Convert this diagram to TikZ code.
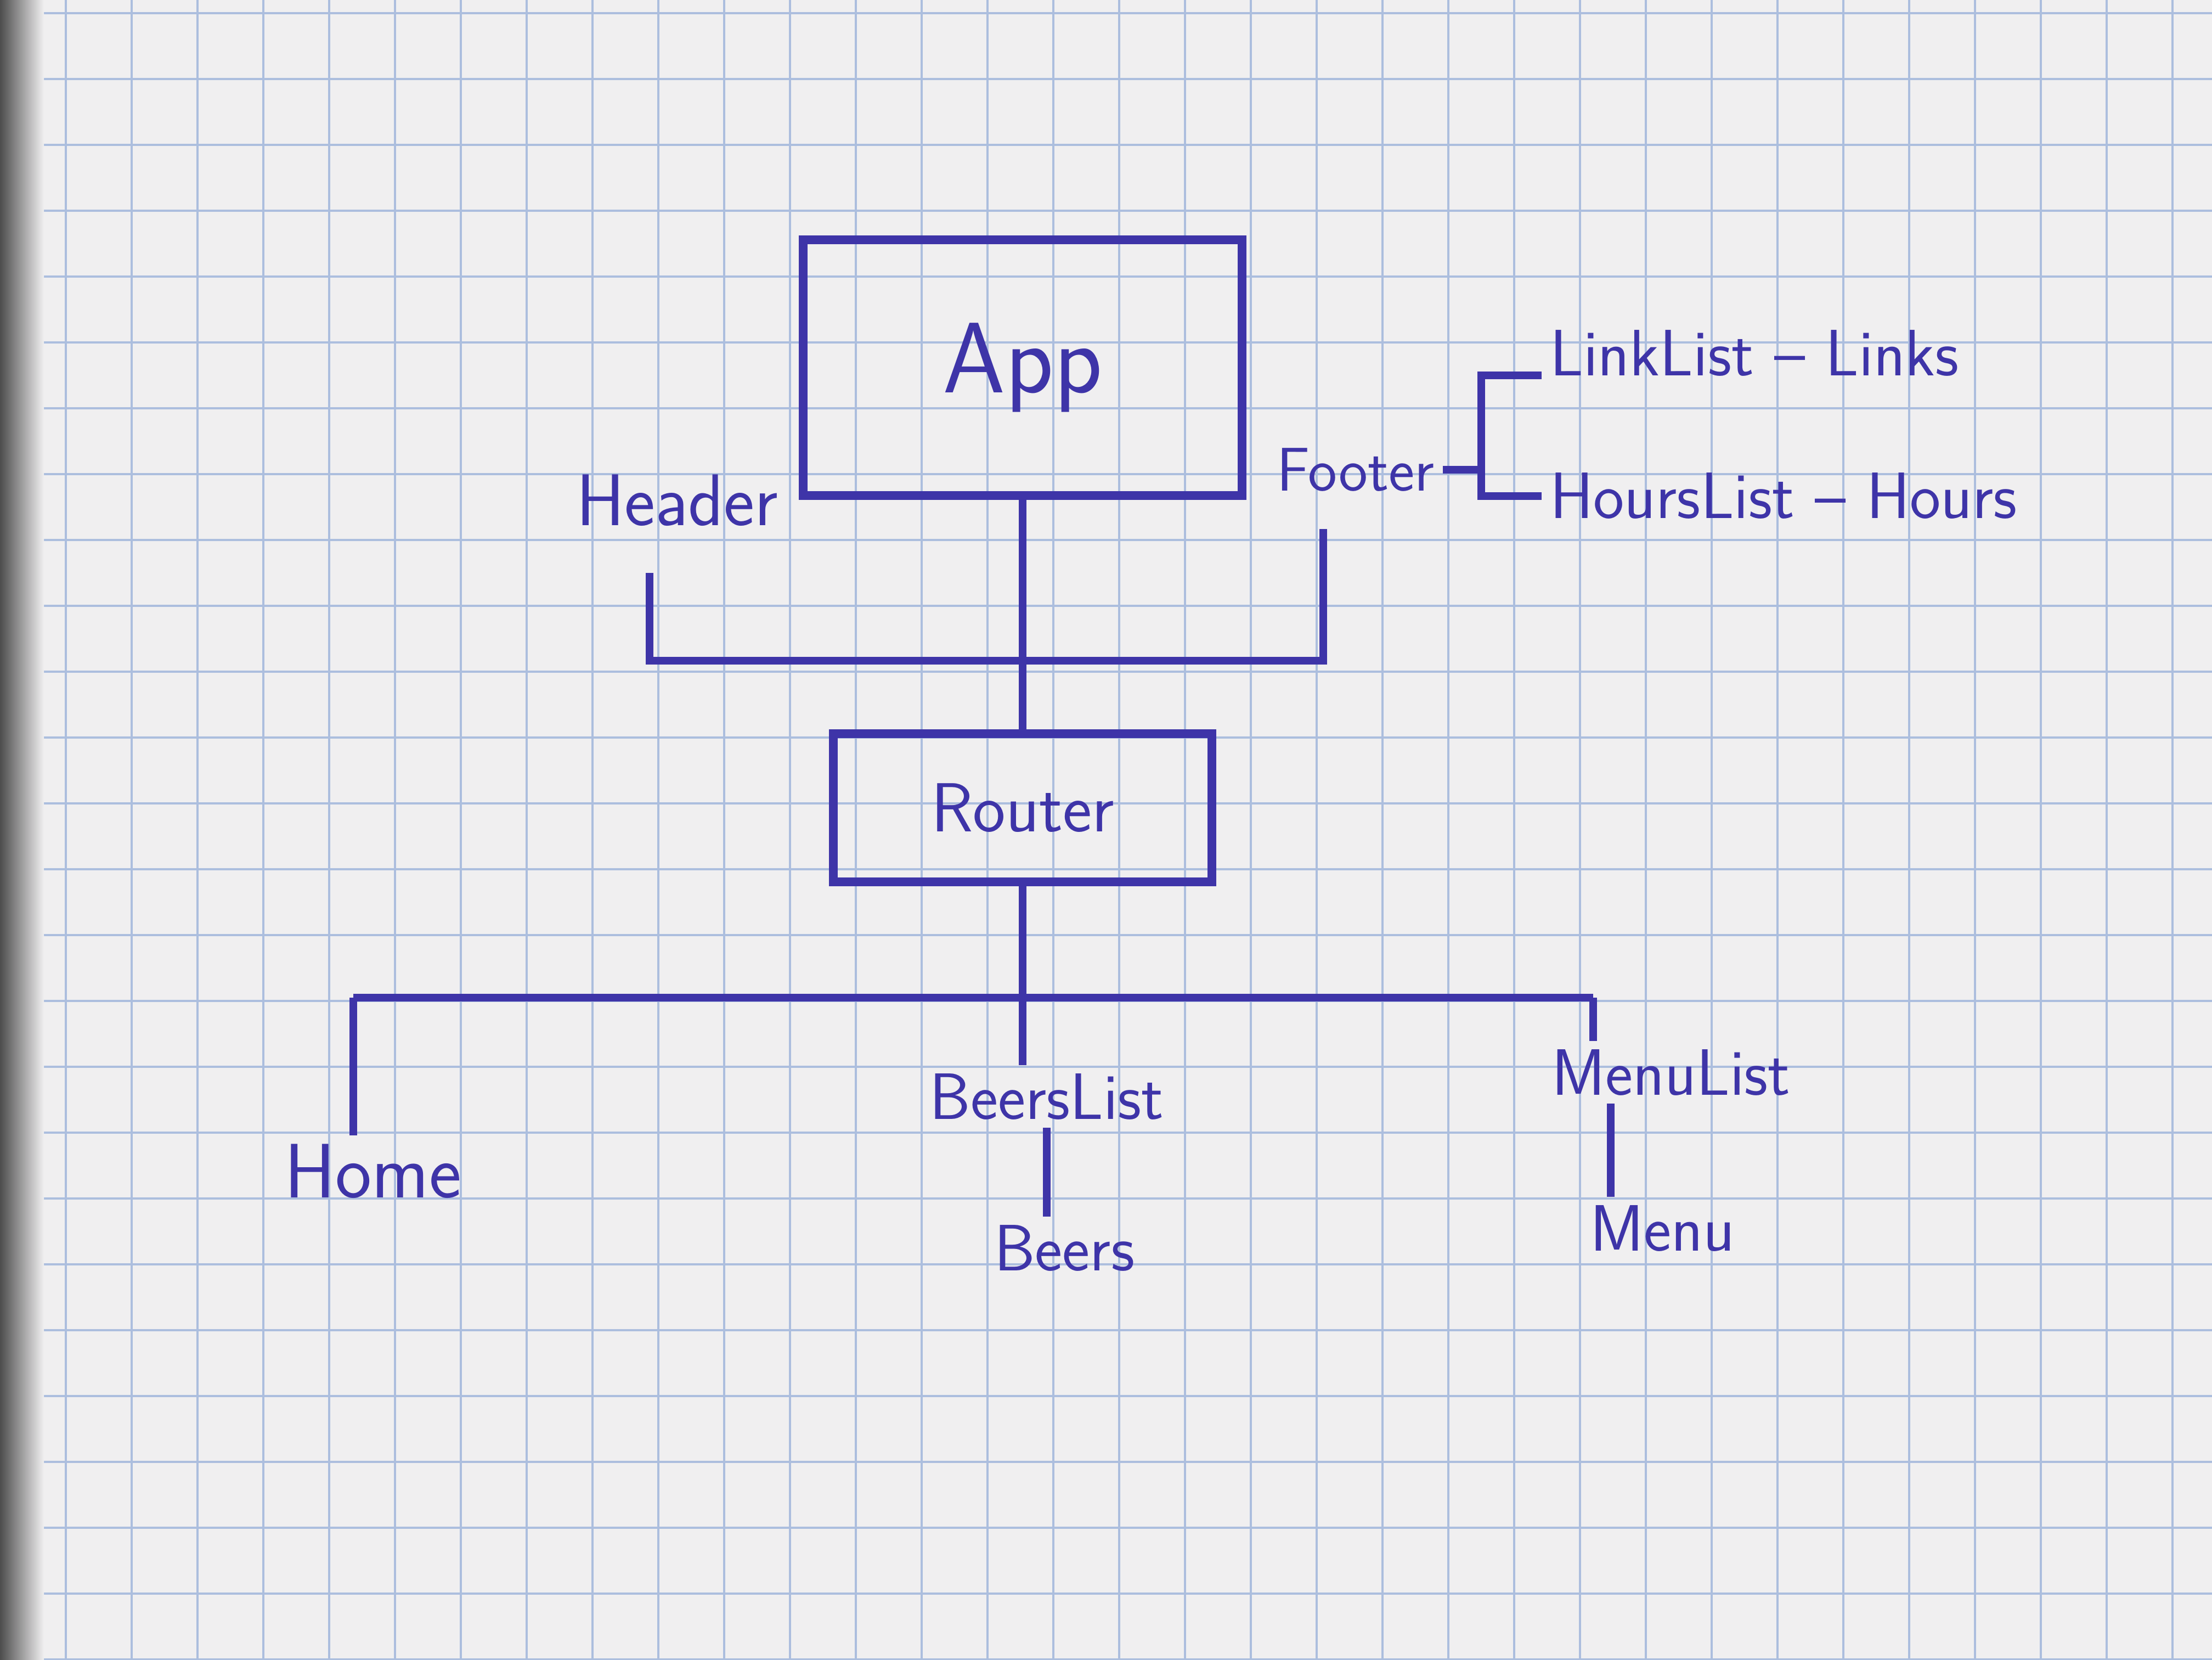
\documentclass[tikz,border=0pt]{standalone}
\usepackage{tikz}
\usetikzlibrary{positioning}
\definecolor{ink}{RGB}{62,52,168}
\definecolor{paper}{RGB}{240,239,240}
\definecolor{gridline}{RGB}{172,190,222}
\tikzstyle{comp} = [draw=ink, line width=2.3pt, text=ink, font=\sffamily\fontsize{18}{21}\selectfont]
\tikzstyle{lbl} = [text=ink, inner sep=2pt, font=\sffamily\fontsize{17}{20}\selectfont]
\tikzstyle{wire} = [draw=ink, line width=1.9pt]

\begin{document}
\begin{tikzpicture}
    \useasboundingbox (0,0) rectangle (20.16,15.12);
    % paper
    \fill[paper] (0,0) rectangle (20.16,15.12);
    \draw[gridline, line width=0.6pt, step=0.6cm] (0,0) grid (20.16,15.12);
    \shade[left color=black!70, right color=paper] (0,0) rectangle (0.4,15.12);

    % boxes
    \node[comp, minimum width=4cm, minimum height=2.33cm,
        font=\sffamily\fontsize{26}{30}\selectfont] (app) at (9.32,11.77) {App};
    \node[comp, minimum width=3.45cm, minimum height=1.35cm] (router) at (9.32,7.76) {Router};

    % labels
    \node[lbl, font=\sffamily\fontsize{19}{22}\selectfont] (header) at (6.17,10.56) {Header};
    \node[lbl, anchor=east, font=\sffamily\fontsize{16}{19}\selectfont] (footer) at (13.15,10.84) {Footer};
    \node[lbl, anchor=west] (links) at (14.05,11.9) {LinkList -- Links};
    \node[lbl, anchor=west] (hours) at (14.05,10.6) {HoursList -- Hours};
    \node[lbl, font=\sffamily\fontsize{20}{23}\selectfont] (home) at (3.4,4.45) {Home};
    \node[lbl] (beerslist) at (9.54,5.13) {BeersList};
    \node[lbl] (beers) at (9.7,3.75) {Beers};
    \node[lbl] (menulist) at (15.23,5.35) {MenuList};
    \node[lbl] (menu) at (15.15,3.93) {Menu};

    % app to router, header and footer
    \draw[wire] (app.south) -- (router.north);
    \coordinate (hdl) at (5.92,9.1);
    \coordinate (hdr) at (12.06,9.1);
    \draw[wire] ([yshift=0.8cm]hdl) -- (hdl) -- (hdr) -- ([yshift=1.2cm]hdr);

    % footer children
    \coordinate[right=0.35cm of footer.east] (fj);
    \draw[wire] (footer.east) -- (fj);
    \draw[wire] ([yshift=-0.2cm]links.west) -| (fj) |- (hours.west);

    % router children
    \coordinate (hj) at (3.22,6.03);
    \coordinate (mj) at (14.52,6.03);
    \coordinate (rj) at (router.south |- hj);
    \draw[wire] (hj) -- (mj);
    \draw[wire] (router.south) -- (rj) -- (rj |- beerslist.north);
    \draw[wire] (hj) -- (hj |- home.north);
    \draw[wire] (mj) -- (mj |- menulist.north);
    \draw[wire] (beerslist.south) -- (beerslist.south |- beers.north);
    \draw[wire] ([xshift=-0.55cm]menulist.south) -- ([xshift=-0.55cm]menulist.south |- menu.north);
\end{tikzpicture}
\end{document}
